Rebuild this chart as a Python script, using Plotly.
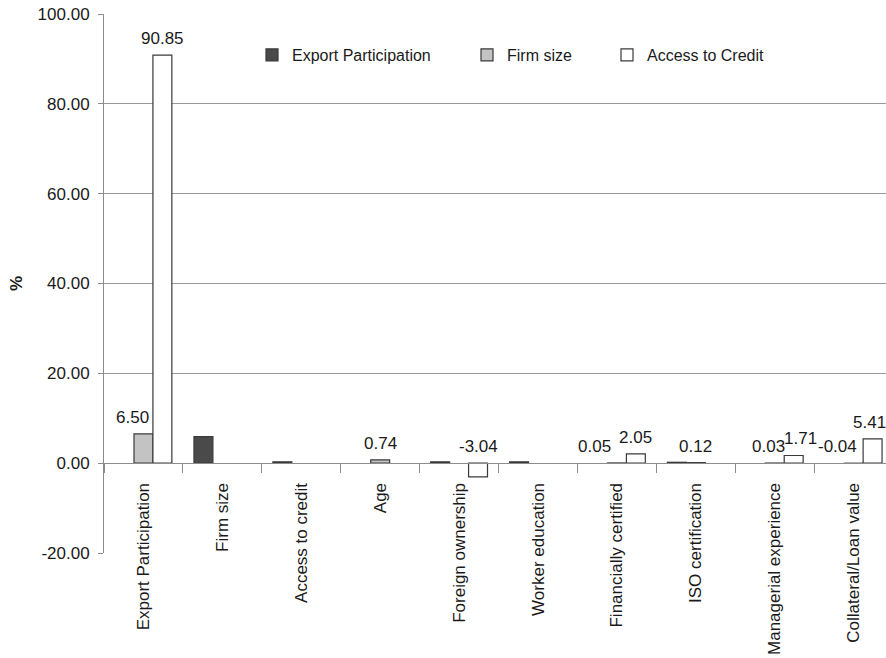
import plotly.graph_objects as go

# Categories (x axis) and the three series, in % (None = not reported)
categories = [
    "Export Participation", "Firm size", "Access to credit", "Age",
    "Foreign ownership", "Worker education", "Financially certified",
    "ISO certification", "Managerial experience", "Collateral/Loan value",
]
export_participation = [None, 5.9, 0.3, None, 0.3, 0.3, None, 0.2, None, None]
firm_size = [6.50, None, None, 0.74, None, None, 0.05, 0.12, 0.03, -0.04]
access_to_credit = [90.85, None, None, None, -3.04, None, 2.05, None, 1.71, 5.41]

# Which values carry a printed label
firm_size_labelled = [True, False, False, True, False, False, True, True, True, True]
access_labelled = [True, False, False, False, True, False, True, False, True, True]

# Value-axis ticks
y_ticks = [-20, 0, 20, 40, 60, 80, 100]
y_tick_labels = [f"{v:.2f}" for v in y_ticks]

FONT = "Liberation Sans, Arial, sans-serif"
TXT = "#1a1a1a"

W, H = 886, 658
M_L, M_R, M_T, M_B = 104, 0, 14, 105
X_RANGE = [-0.5, 9.41]
BARGAP = 0.28
cat_px = (W - M_L - M_R) / (X_RANGE[1] - X_RANGE[0])
bar_px = cat_px * (1 - BARGAP) / 3

series = [
    ("Export Participation", export_participation, "#4a4a4a", "legend"),
    ("Firm size", firm_size, "#c3c3c3", "legend2"),
    ("Access to Credit", access_to_credit, "#ffffff", "legend3"),
]

fig = go.Figure()
for name, vals, color, leg in series:
    fig.add_trace(go.Bar(
        x=categories, y=vals, name=name, legend=leg, showlegend=True,
        marker=dict(color=color, line=dict(color="#3a3a3a", width=1.2)),
    ))

# Horizontal nudges (px) for labels that would otherwise collide
nudge = {
    ("firm", 0): -11, ("firm", 6): -22, ("firm", 8): -6, ("firm", 9): -16,
    ("access", 8): 7, ("access", 9): -3,
}

def add_labels(vals, flags, key, slot):
    for i, (v, show) in enumerate(zip(vals, flags)):
        if not show or v is None:
            continue
        fig.add_annotation(
            x=categories[i], y=max(v, 0), xref="x", yref="y",
            text=f"{v:.2f}", showarrow=False, yanchor="bottom",
            xshift=slot * bar_px + nudge.get((key, i), 0), yshift=5,
            font=dict(family=FONT, size=17, color=TXT),
        )

add_labels(firm_size, firm_size_labelled, "firm", 0)
add_labels(access_to_credit, access_labelled, "access", 1)

leg_common = dict(
    orientation="h", xref="container", yref="container", yanchor="middle",
    y=1 - 55 / H, bgcolor="rgba(0,0,0,0)",
    font=dict(family=FONT, size=16, color=TXT), itemwidth=30,
)

fig.update_layout(
    width=W, height=H,
    margin=dict(l=M_L, r=M_R, t=M_T, b=M_B, autoexpand=False),
    paper_bgcolor="white", plot_bgcolor="white",
    showlegend=True,
    barmode="group", bargap=BARGAP, bargroupgap=0,
    font=dict(family=FONT, size=17, color=TXT),
    legend=dict(x=252 / W, **leg_common),
    legend2=dict(x=467 / W, **leg_common),
    legend3=dict(x=607 / W, **leg_common),
    xaxis=dict(
        type="category", range=X_RANGE, anchor="free", position=1 / 6,
        showline=True, linecolor="#8c8c8c", linewidth=1,
        ticks="outside", tickson="boundaries", ticklen=9, tickcolor="#8c8c8c",
        tickangle=-90, showgrid=False, ticklabelstandoff=12,
        tickfont=dict(family=FONT, size=17, color=TXT),
    ),
    yaxis=dict(
        range=[-20, 100], tickmode="array",
        tickvals=y_ticks, ticktext=y_tick_labels,
        showline=True, linecolor="#8c8c8c", linewidth=1,
        ticks="outside", ticklen=5, tickcolor="#8c8c8c", ticklabelstandoff=5,
        showgrid=True, gridcolor="#9a9a9a", gridwidth=1, zeroline=False,
        tickfont=dict(family=FONT, size=17, color=TXT),
        title=dict(text="<b>%</b>", font=dict(family=FONT, size=17, color=TXT),
                   standoff=10),
    ),
)

fig.write_html("out.html")
